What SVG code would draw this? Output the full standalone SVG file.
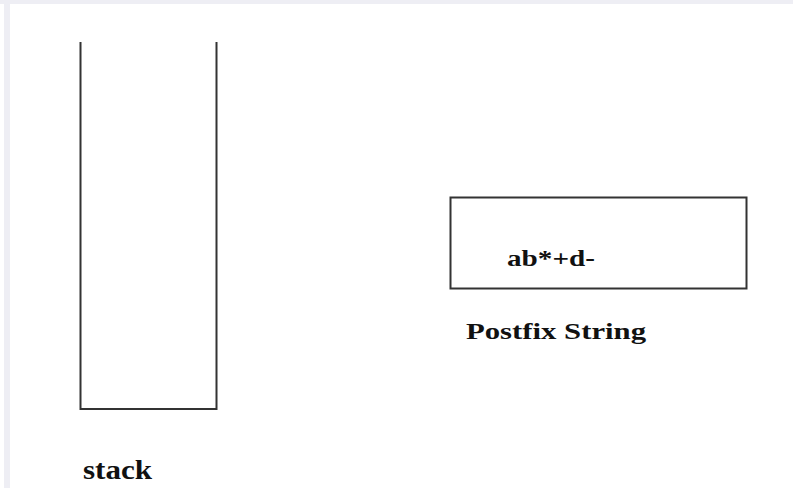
<svg xmlns="http://www.w3.org/2000/svg" width="793" height="488" viewBox="0 0 793 488">
<style>
.ln{stroke:#333;stroke-width:2;fill:none}
.lbl{font-family:"Liberation Serif","Times New Roman",serif;font-weight:bold;fill:#111}
</style>
<rect x="0" y="0" width="793" height="488" fill="#ffffff"/>
<rect x="0" y="0" width="793" height="4" fill="#eeeef4"/>
<rect x="4" y="0" width="6" height="488" fill="#eeeef4"/>
<g id="stack">
<path class="ln" d="M80.5,42 V409 H216.5 V42"/>
<text class="lbl" x="83" y="479" font-size="27" textLength="69" lengthAdjust="spacingAndGlyphs">stack</text>
</g>
<g id="postfix">
<rect class="ln" x="450.5" y="197.5" width="296" height="91"/>
<text class="lbl" x="507" y="266" font-size="24" textLength="88" lengthAdjust="spacingAndGlyphs">ab*+d-</text>
<text class="lbl" x="466" y="339" font-size="24" textLength="180" lengthAdjust="spacingAndGlyphs">Postfix String</text>
</g>
<g id="connectors"></g>
</svg>
